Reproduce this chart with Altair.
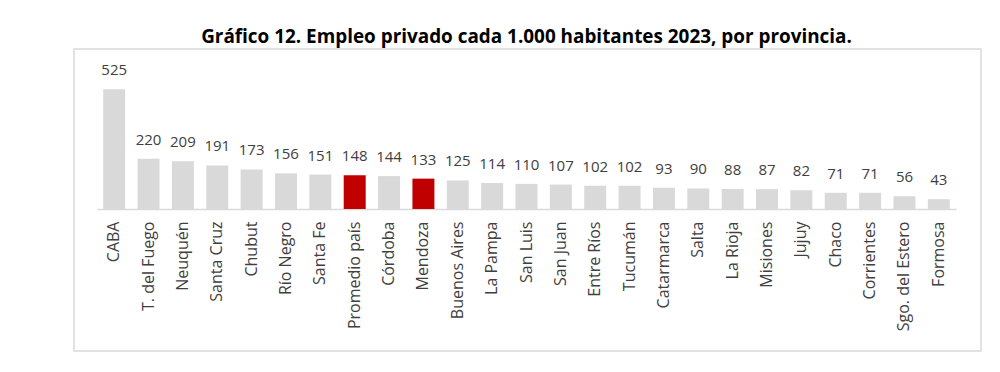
import altair as alt
import pandas as pd

provincias = ["CABA", "T. del Fuego", "Neuquén", "Santa Cruz", "Chubut", "Río Negro",
              "Santa Fe", "Promedio país", "Córdoba", "Mendoza", "Buenos Aires", "La Pampa",
              "San Luis", "San Juan", "Entre Ríos", "Tucumán", "Catarmarca", "Salta",
              "La Rioja", "Misiones", "Jujuy", "Chaco", "Corrientes", "Sgo. del Estero", "Formosa"]
valores = [525, 220, 209, 191, 173, 156, 151, 148, 144, 133, 125, 114, 110, 107, 102, 102,
           93, 90, 88, 87, 82, 71, 71, 56, 43]
destacados = ["Promedio país", "Mendoza"]

df = pd.DataFrame({
    "provincia": provincias,
    "valor": valores,
    "grupo": ["dest" if p in destacados else "resto" for p in provincias],
})

FONT = "Open Sans"

x = alt.X("provincia:N", sort=provincias, title=None,
          scale=alt.Scale(paddingInner=0.36, paddingOuter=0.18),
          axis=alt.Axis(labelAngle=-90, labelFont=FONT, labelFontSize=16,
                        labelColor="#404040", ticks=False, tickSize=0, labelPadding=12,
                        domainColor="#d9d9d9", domainWidth=1.5, labelBaseline="middle"))
y = alt.Y("valor:Q", axis=None, scale=alt.Scale(domain=[0, 600], nice=False, zero=True))

base = alt.Chart(df).encode(x=x, y=y)

bars = base.mark_bar().encode(
    color=alt.Color("grupo:N", scale=alt.Scale(domain=["resto", "dest"],
                                               range=["#d9d9d9", "#c00000"]), legend=None)
)
labels = base.mark_text(font=FONT, fontSize=15, color="#404040", baseline="alphabetic",
                        dy=-14).encode(text=alt.Text("valor:Q"))

frame = alt.Chart(pd.DataFrame({"a": [0]})).mark_rect(
    fillOpacity=0, stroke="#d9d9d9", strokeWidth=1.5
).encode(x=alt.value(-23), x2=alt.value(884), y=alt.value(-23), y2=alt.value(279))

chart = alt.layer(frame, bars, labels).properties(
    width=859, height=137,
    title=alt.TitleParams("Gráfico 12. Empleo privado cada 1.000 habitantes 2023, por provincia.",
                          font=FONT, fontSize=18.9, fontWeight="bold", color="#000000",
                          anchor="middle", offset=1),
    autosize=alt.AutoSizeParams(type="none"),
    padding={"left": 89, "top": 64, "right": 30, "bottom": 150},
).configure_view(stroke="transparent")

chart.save("out.html", embed_options={"renderer": "svg", "actions": False})
